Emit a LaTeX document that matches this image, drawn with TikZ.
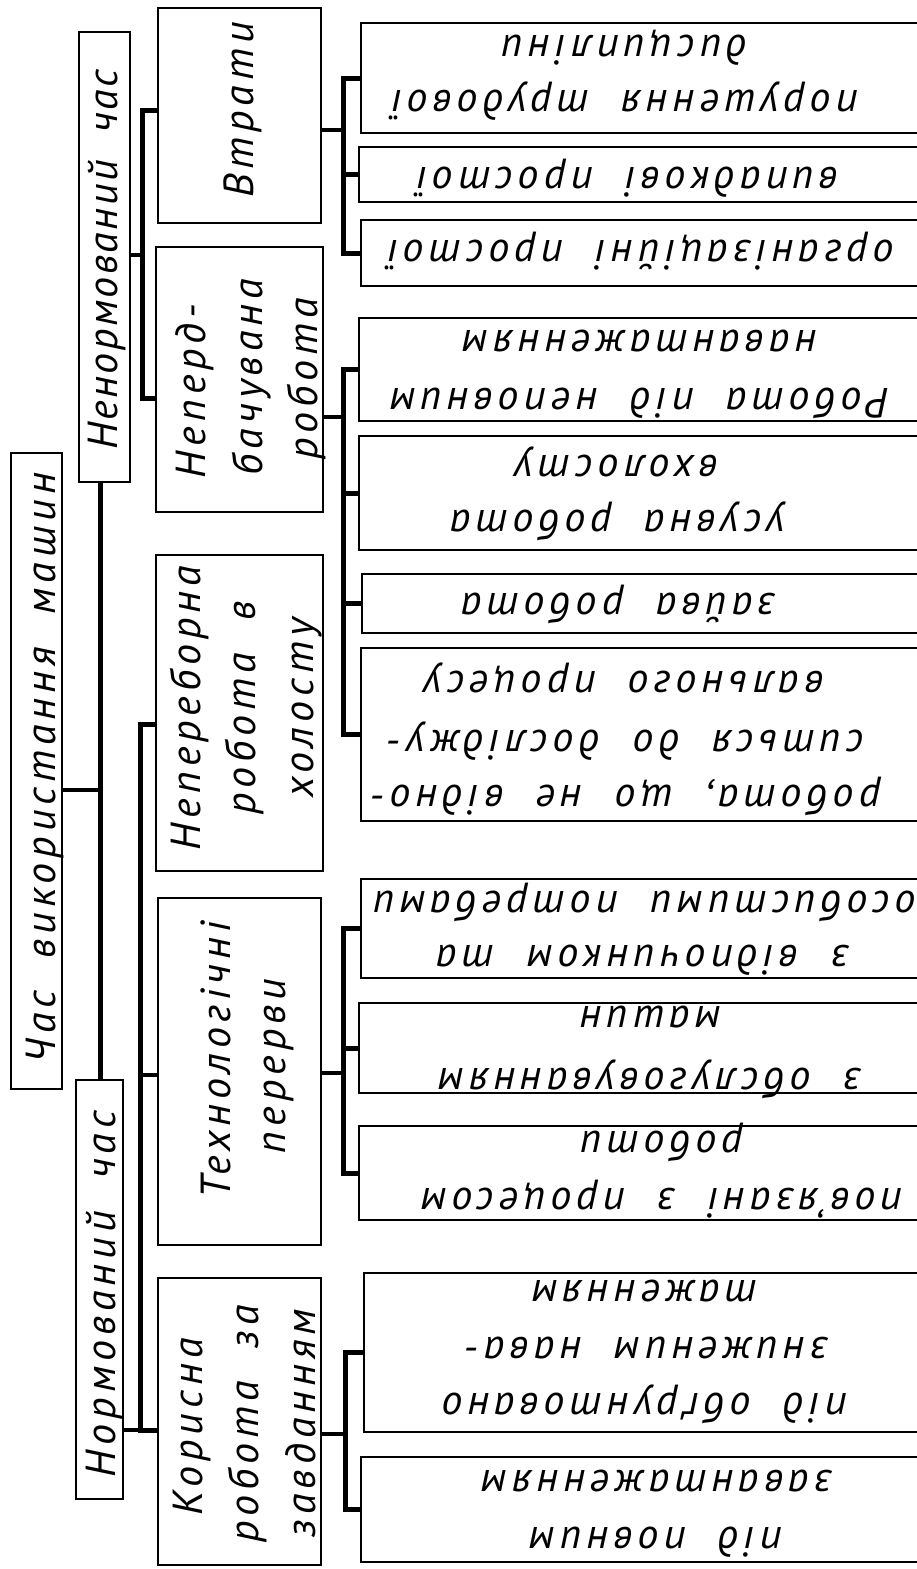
\documentclass[tikz,border=0pt]{standalone}
\usepackage{fontspec}
\setmainfont{PT Sans}
\newfontfamily\gostfont{PT Sans}[LetterSpace=12, WordSpace=2]

% rectangle frame given by its corners (x1,y1) and (x2,y2), y growing downwards
\newcommand\frameat[5]{%
  \node[box, minimum width={#4pt-#2pt}, minimum height={#5pt-#3pt}] (#1)
    at ({(#2+#4)/2},{(#3+#5)/2}) {};}

\begin{document}
\begin{tikzpicture}[x=1pt, y=-1pt,
  box/.style={draw, rectangle, line width=2.4pt, inner sep=0pt, outer sep=0pt},
  bus/.style={line width=5pt, line cap=butt, line join=miter},
  link/.style={line width=3.6pt, line cap=butt},
  lbl/.style={font=\gostfont\itshape\fontsize{42}{56}\selectfont, inner sep=0pt, anchor=base},
  tight/.style={font=\gostfont\itshape\fontsize{42}{56}\selectfont\addfontfeature{LetterSpace=6}},
  vtext/.style={lbl, rotate=90},
  rtext/.style={lbl, rotate=180}]
\useasboundingbox (0,0) rectangle (916,1569);

% ---- frames ----
\frameat{root}{11}{453}{62}{1089}
\frameat{nenorm}{79}{32}{130}{482}
\frameat{norm}{76}{1080}{123}{1499}
\frameat{vtraty}{158}{8}{321}{223}
\frameat{neperd}{156}{247}{323}{512}
\frameat{neperebor}{156}{555}{323}{871}
\frameat{tekh}{158}{898}{321}{1245}
\frameat{koryst}{158}{1278}{321}{1565}
\frameat{r1}{361}{23}{940}{133}
\frameat{r2}{359}{147}{940}{202}
\frameat{r3}{361}{220}{940}{286}
\frameat{r4}{359}{318}{940}{421}
\frameat{r5}{359}{436}{940}{550}
\frameat{r6}{362}{574}{940}{633}
\frameat{r7}{361}{648}{940}{821}
\frameat{r8}{361}{879}{940}{978}
\frameat{r9}{359}{1003}{940}{1093}
\frameat{r10}{359}{1126}{940}{1220}
\frameat{r11}{364}{1273}{940}{1432}
\frameat{r12}{361}{1457}{940}{1562}

% ---- labels of the upper levels ----
\node[vtext] (troot) at (55,768) {Час використання машин};
\node[vtext, tight] (tnenorm) at (117,260) {Ненормований час};
\node[vtext] (tnorm) at (115,1294) {Нормований час};
\node[vtext] (tvtraty) at (253,110) {Втрати};
\node[vtext] (tneperd1) at (205,391) {Неперд-};
\node[vtext] (tneperd2) at (262,377) {бачувана};
\node[vtext] (tneperd3) at (317,379) {робота};
\node[vtext] (tneperebor1) at (200,708) {Непереборна};
\node[vtext] (tneperebor2) at (255,708) {робота в};
\node[vtext] (tneperebor3) at (313,708) {холосту};
\node[vtext] (ttekh1) at (230,1060) {Технологічні};
\node[vtext] (ttekh2) at (285,1066) {перерви};
\node[vtext] (tkoryst1) at (202,1427) {Корисна};
\node[vtext] (tkoryst2) at (258,1424) {робота за};
\node[vtext] (tkoryst3) at (315,1423) {завданням};

% ---- labels of the leaves ----
\node[rtext] (tr1a) at (625,35) {дисципліни};
\node[rtext] (tr1b) at (625,90) {порушення трудової};
\node[rtext] (tr2) at (628,167) {випадкові простої};
\node[rtext] (tr3) at (641,240) {організаційні простої};
\node[rtext] (tr4a) at (640,330) {навантаженням};
\node[rtext] (tr4b) at (640,388) {Робота під неповним};
\node[rtext] (tr5a) at (617,455) {вхолосту};
\node[rtext] (tr5b) at (618,510) {усувна робота};
\node[rtext] (tr6) at (619,593) {зайва робота};
\node[rtext] (tr7a) at (624,671) {вального процесу};
\node[rtext] (tr7b) at (626,730) {ситься до досліджу-};
\node[rtext] (tr7c) at (626,785) {робота, що не відно-};
\node[rtext] (tr8a) at (645,891) {особистими потребами};
\node[rtext] (tr8b) at (643,945) {з відпочинком та};
\node[rtext] (tr9a) at (651,1006) {машин};
\node[rtext] (tr9b) at (650,1068) {з обслуговуванням};
\node[rtext] (tr10a) at (662,1131) {роботи};
\node[rtext] (tr10b) at (662,1188) {пов’язані з процесом};
\node[rtext] (tr11a) at (645,1280) {таженням};
\node[rtext] (tr11b) at (647,1337) {зниженим нава-};
\node[rtext] (tr11c) at (645,1393) {під обґрунтовано};
\node[rtext] (tr12a) at (657,1470) {завантаженням};
\node[rtext] (tr12b) at (656,1527) {під повним};

% ---- trunk ----
\coordinate (t0) at (100,790);
\draw[link] (root.east |- t0) -- (t0);
\draw[bus] (nenorm.south -| t0) -- (norm.north -| t0);

% ---- unnormed time ----
\coordinate (j1) at (142,255);
\coordinate (j1a) at (142,110);
\coordinate (j1b) at (142,398);
\draw[link] (nenorm.east |- j1) -- (j1);
\draw[bus] (vtraty.west |- j1a) -- (j1a) -- (j1b) -- (neperd.west |- j1b);

% ---- normed time ----
\coordinate (j2a) at (140,724);
\coordinate (j2b) at (140,1075);
\coordinate (j2c) at (140,1430);
\draw[bus] (neperebor.west |- j2a) -- (j2a) -- (j2c) -- (koryst.west |- j2c);
\draw[link] (j2b) -- (tekh.west |- j2b);
\draw[link] (norm.east |- j2c) -- (j2c);

% ---- leaves of "losses" ----
\coordinate (k1) at (343,130);
\draw[link] (vtraty.east |- k1) -- (k1);
\draw[bus] (r1.west) -| (k1) |- (r3.west);
\draw[bus] (r2.west) -- (r2.west -| k1);

% ---- leaves of unforeseen work ----
\coordinate (k2) at (343,417);
\draw[link] (neperd.east |- k2) -- (k2);
\draw[bus] (r4.west) -| (k2) |- (r7.west);
\draw[bus] (r5.west) -- (r5.west -| k2);
\draw[bus] (r6.west) -- (r6.west -| k2);

% ---- leaves of technological breaks ----
\coordinate (k3) at (343,1073);
\draw[link] (tekh.east |- k3) -- (k3);
\draw[bus] (r8.west) -| (k3) |- (r10.west);
\draw[bus] (r9.west) -- (r9.west -| k3);

% ---- leaves of useful work ----
\coordinate (k4) at (345,1434);
\draw[link] (koryst.east |- k4) -- (k4);
\draw[bus] (r11.west) -| (k4) |- (r12.west);
\end{tikzpicture}
\end{document}
